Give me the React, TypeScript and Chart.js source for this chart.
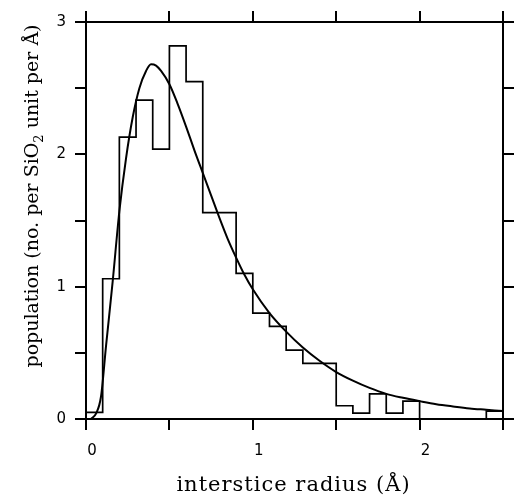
import React, { useEffect, useRef } from "react";
import { Chart, registerables } from "chart.js";

Chart.register(...registerables);

// Histogram: left edges of 0.1 Å bins and their heights
const binStarts = [0.0, 0.1, 0.2, 0.3, 0.4, 0.5, 0.6, 0.7, 0.8, 0.9, 1.0, 1.1, 1.2, 1.3, 1.4, 1.5, 1.6, 1.7, 1.8, 1.9, 2.0, 2.1, 2.2, 2.3, 2.4];
const binHeights = [0.05, 1.06, 2.13, 2.41, 2.04, 2.82, 2.55, 1.56, 1.56, 1.10, 0.80, 0.70, 0.52, 0.42, 0.42, 0.10, 0.045, 0.19, 0.045, 0.135, 0, 0, 0, 0, 0.06];
const binEnd = 2.5;

// Fitted curve
const curveX = [0.03, 0.06, 0.09, 0.12, 0.16, 0.20, 0.24, 0.28, 0.32, 0.36, 0.39, 0.42, 0.45, 0.50, 0.55, 0.60, 0.65, 0.70, 0.75, 0.80, 0.85, 0.90, 0.95, 1.0, 1.1, 1.2, 1.3, 1.4, 1.5, 1.6, 1.7, 1.8, 1.9, 2.0, 2.1, 2.2, 2.3, 2.4, 2.5];
const curveY = [0.0, 0.04, 0.17, 0.55, 1.04, 1.57, 1.97, 2.28, 2.50, 2.63, 2.68, 2.67, 2.63, 2.53, 2.38, 2.21, 2.03, 1.86, 1.69, 1.52, 1.36, 1.22, 1.09, 0.98, 0.80, 0.66, 0.54, 0.44, 0.355, 0.29, 0.235, 0.19, 0.16, 0.135, 0.112, 0.095, 0.08, 0.07, 0.06];

const xTickValues = [0, 1, 2];
const xTickLabels = ["0", "1", "2"];
const yTickValues = [0, 1, 2, 3];
const yTickLabels = ["0", "1", "2", "3"];

const xTitle = "interstice radius (Å)";
const yTitleBefore = "population (no. per SiO";
const yTitleSub = "2";
const yTitleAfter = " unit per Å)";

Chart.defaults.font.family = "DejaVu Sans";
Chart.defaults.font.size = 15;
Chart.defaults.color = "#000";

const titlePlugin = {
  id: "customTitles",
  afterDraw(chart: any) {
    const ctx = chart.ctx as CanvasRenderingContext2D;
    const ca = chart.chartArea;
    // x title
    ctx.save();
    ctx.fillStyle = "#000";
    ctx.font = '21px "DejaVu Serif"';
    (ctx as any).letterSpacing = "1px";
    ctx.textBaseline = "alphabetic";
    ctx.textAlign = "center";
    ctx.fillText(xTitle, (ca.left + ca.right) / 2 - 1, 491);
    ctx.restore();

    // y title (rotated)
    ctx.save();
    ctx.fillStyle = "#000";
    ctx.translate(38, 196);
    ctx.rotate(-Math.PI / 2);
    ctx.textBaseline = "alphabetic";
    ctx.textAlign = "left";
    const mainFont = '19px "DejaVu Serif"';
    const subFont = '13px "DejaVu Serif"';
    ctx.font = mainFont;
    const w1 = ctx.measureText(yTitleBefore).width;
    const w3 = ctx.measureText(yTitleAfter).width;
    ctx.font = subFont;
    const w2 = ctx.measureText(yTitleSub).width;
    const total = w1 + w2 + w3;
    let x = -total / 2;
    ctx.font = mainFont;
    ctx.fillText(yTitleBefore, x, 0);
    x += w1;
    ctx.font = subFont;
    ctx.fillText(yTitleSub, x, 5);
    x += w2;
    ctx.font = mainFont;
    ctx.fillText(yTitleAfter, x, 0);
    ctx.restore();
  },
};

export default function App() {
  const ref = useRef<HTMLCanvasElement | null>(null);

  useEffect(() => {
    if (!ref.current) return;
    const histPoints = [{ x: binStarts[0], y: 0 }]
      .concat(binStarts.map((x, i) => ({ x, y: binHeights[i] })))
      .concat([
        { x: binEnd, y: binHeights[binHeights.length - 1] },
        { x: binEnd, y: 0 },
      ]);
    const curvePoints = curveX.map((x, i) => ({ x, y: curveY[i] }));

    const axisGrid = () => ({
      drawOnChartArea: false,
      drawTicks: true,
      tickLength: 11,
      color: "#000",
      lineWidth: 2,
    });
    const axisBorder = () => ({ display: true, color: "#000", width: 2 });
    const tickFont = () => ({ family: "DejaVu Sans", size: 15 });

    const chart = new Chart(ref.current, {
      type: "line",
      data: {
        datasets: [
          {
            data: histPoints,
            borderColor: "#000",
            borderWidth: 1.7,
            pointRadius: 0,
            stepped: "before",
            fill: false,
          },
          {
            data: curvePoints,
            borderColor: "#000",
            borderWidth: 2,
            pointRadius: 0,
            cubicInterpolationMode: "monotone",
            fill: false,
          },
        ],
      } as any,
      options: {
        animation: false,
        responsive: false,
        devicePixelRatio: 1,
        layout: { padding: 0 },
        plugins: { legend: { display: false }, tooltip: { enabled: false }, title: { display: false } },
        scales: {
          x: {
            type: "linear",
            position: "bottom",
            min: 0,
            max: 2.5,
            grid: axisGrid(),
            border: axisBorder(),
            ticks: {
              stepSize: 0.5,
              autoSkip: false,
              maxRotation: 0,
              padding: 12,
              labelOffset: 6,
              color: "#000",
              font: tickFont(),
              callback: (v: any) => {
                const i = xTickValues.indexOf(Number(v));
                return i >= 0 ? xTickLabels[i] : "";
              },
            },
            afterFit: (s: any) => {
              s.height = 78;
            },
          },
          x2: {
            type: "linear",
            position: "top",
            min: 0,
            max: 2.5,
            grid: axisGrid(),
            border: axisBorder(),
            ticks: { stepSize: 0.5, autoSkip: false, display: false },
            afterFit: (s: any) => {
              s.height = 22;
            },
          },
          y: {
            type: "linear",
            position: "left",
            min: 0,
            max: 3,
            grid: axisGrid(),
            border: axisBorder(),
            ticks: {
              stepSize: 0.5,
              autoSkip: false,
              padding: 9,
              color: "#000",
              font: tickFont(),
              callback: (v: any) => {
                const i = yTickValues.indexOf(Number(v));
                return i >= 0 ? yTickLabels[i] : "";
              },
            },
            afterFit: (s: any) => {
              s.width = 86;
            },
          },
          y2: {
            type: "linear",
            position: "right",
            min: 0,
            max: 3,
            grid: axisGrid(),
            border: axisBorder(),
            ticks: { stepSize: 0.5, autoSkip: false, display: false },
            afterFit: (s: any) => {
              s.width = 6;
            },
          },
        },
      } as any,
      plugins: [titlePlugin],
    });
    return () => chart.destroy();
  }, []);

  return (
    <div style={{ position: "fixed", left: 0, top: 0, width: 515, height: 497, background: "#fff" }}>
      <canvas ref={ref} width={515} height={497} style={{ width: 515, height: 497, display: "block" }} />
    </div>
  );
}
